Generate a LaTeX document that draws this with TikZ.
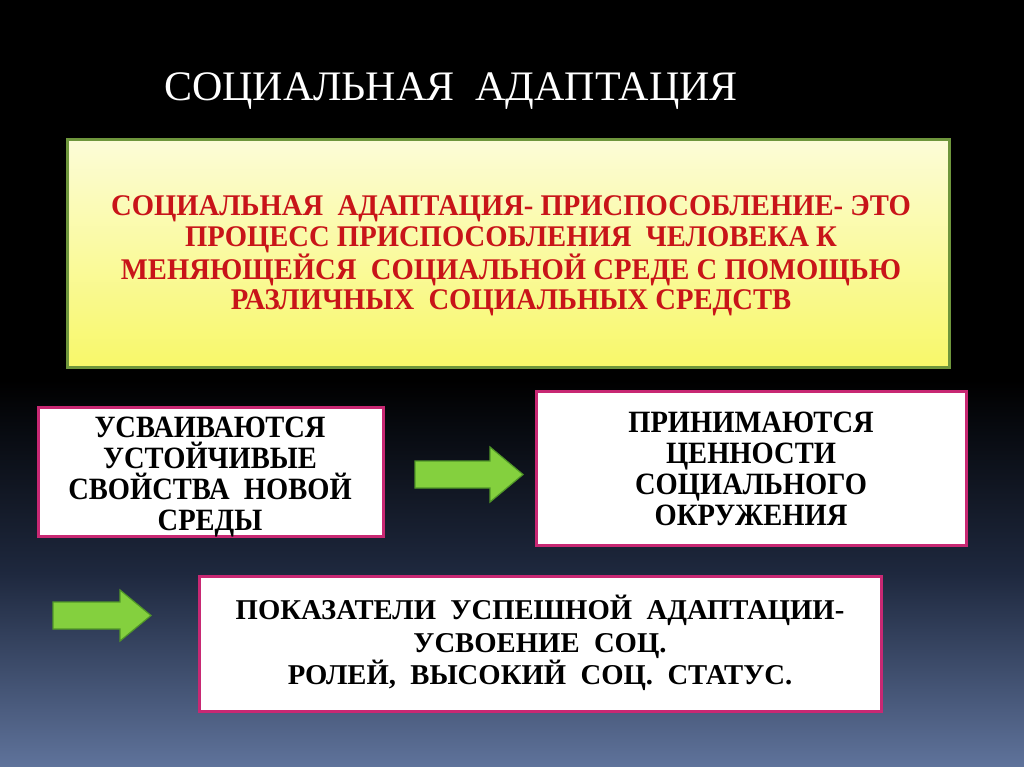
\documentclass[tikz,border=0pt]{standalone}
\usepackage{fontspec}
\setmainfont{Liberation Serif}
\newfontfamily\boxfont[FakeStretch=0.92]{Liberation Serif}
\newfontfamily\redfont[FakeStretch=0.955]{Liberation Serif}
\usetikzlibrary{positioning}
\definecolor{bgbot}{RGB}{95,115,155}
\definecolor{bgmid}{RGB}{30,40,62}
\definecolor{ytop}{RGB}{252,252,215}
\definecolor{ybot}{RGB}{248,248,105}
\definecolor{ygreen}{RGB}{110,150,60}
\definecolor{redtxt}{RGB}{200,20,25}
\definecolor{pinkb}{RGB}{200,40,115}
\definecolor{afill}{RGB}{132,208,62}
\definecolor{aedge}{RGB}{80,150,40}
\tikzset{
  x=1pt,y=1pt,
  whitebox/.style={draw=pinkb,line width=3pt,fill=white},
  arrowshape/.style={fill=afill,draw=aedge,line width=1.2pt,line join=miter},
  boxtext/.style={align=center,font=\boxfont\bfseries\fontsize{31}{31}\selectfont,text=black},
}
\begin{document}
\begin{tikzpicture}
\useasboundingbox (0,0) rectangle (1024,-767);
% background
\fill[black] (0,0) rectangle (1024,-767);
\shade[top color=black,bottom color=bgbot,middle color=bgmid] (0,-380) rectangle (1024,-767);
% title
\node[text=white,font=\fontsize{42}{42}\selectfont] (title) at (451,-91) {СОЦИАЛЬНАЯ\ \ АДАПТАЦИЯ};
% yellow box
\shade[top color=ytop,bottom color=ybot,draw=ygreen,line width=3pt] (67,-140) rectangle (949,-367);
\node[align=center,text=redtxt,font=\redfont\bfseries\fontsize{30}{30.5}\selectfont] (def) at (511,-256)
 {СОЦИАЛЬНАЯ\ \ АДАПТАЦИЯ- ПРИСПОСОБЛЕНИЕ- ЭТО\\ПРОЦЕСС ПРИСПОСОБЛЕНИЯ\ \ ЧЕЛОВЕКА К\\МЕНЯЮЩЕЙСЯ\ \ СОЦИАЛЬНОЙ СРЕДЕ С ПОМОЩЬЮ\\РАЗЛИЧНЫХ\ \ СОЦИАЛЬНЫХ СРЕДСТВ};
% boxes
\draw[whitebox] (38,-407) rectangle (383,-536);
\node[boxtext] (b1) at (210,-477) {УСВАИВАЮТСЯ\\УСТОЙЧИВЫЕ\\СВОЙСТВА\ \ НОВОЙ\\СРЕДЫ};
\draw[whitebox] (536,-391) rectangle (966,-545);
\node[boxtext] (b2) at (751,-469) {ПРИНИМАЮТСЯ\\ЦЕННОСТИ\\СОЦИАЛЬНОГО\\ОКРУЖЕНИЯ};
\draw[whitebox] (199,-576) rectangle (881,-711);
\node[align=center,font=\bfseries\fontsize{28.7}{32.5}\selectfont,text=black] (b3) at (540,-643)
 {ПОКАЗАТЕЛИ\ \ УСПЕШНОЙ\ \ АДАПТАЦИИ-\\УСВОЕНИЕ\ \ СОЦ.\\РОЛЕЙ,\ \ ВЫСОКИЙ\ \ СОЦ.\ \ СТАТУС.};
% arrows
\draw[arrowshape] (415,-461) -- (490,-461) -- (490,-447) -- (523,-474.5) -- (490,-502) -- (490,-488) -- (415,-488) -- cycle;
\draw[arrowshape] (53,-602) -- (120,-602) -- (120,-590) -- (151,-615.5) -- (120,-641) -- (120,-629) -- (53,-629) -- cycle;
\end{tikzpicture}
\end{document}
